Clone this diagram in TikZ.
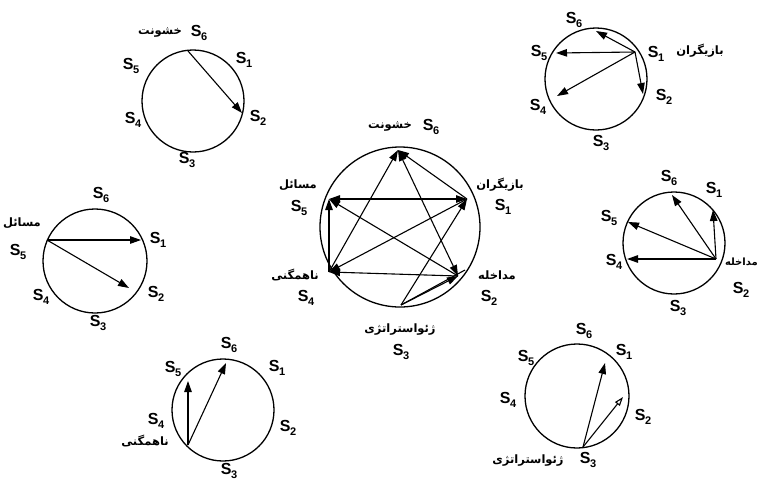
\documentclass[tikz,border=0pt]{standalone}
\usepackage{fontspec}
\setmainfont{Liberation Sans}
\newfontfamily\fa[Script=Arabic]{DejaVu Sans}
\TeXXeTstate=1
\usetikzlibrary{arrows.meta}
\newcommand\slab[1]{S\kern-0.3pt\raisebox{-0.45ex}{\fontsize{11}{11}\selectfont #1}}
\newcommand\fat[1]{\beginR #1\endR}
\tikzset{
  circ/.style={draw, line width=1.3pt, circle, inner sep=0pt},
  arr/.style={line width=1.1pt, -{Triangle[length=11pt,width=7.5pt]}},
  arrb/.style={line width=1.1pt, {Triangle[length=11pt,width=7.5pt]}-{Triangle[length=11pt,width=7.5pt]}},
  arro/.style={line width=1.1pt, -{Triangle[open,length=9pt,width=6pt]}},
  ln/.style={line width=1.1pt},
  lbl/.style={font=\bfseries\fontsize{16}{16}\selectfont, inner sep=0pt},
  fal/.style={font=\fa\bfseries\fontsize{11.5}{12}\selectfont, inner sep=0pt},
}
\begin{document}
\begin{tikzpicture}[x=1pt,y=-1pt]
\useasboundingbox (0,0) rectangle (759,480);
% ---------- top-left circle (S6) ----------
\node[circ, minimum size=102pt] (c1) at (193,101) {};
\coordinate (a6) at (188,51);
\coordinate (a2) at (242,113);
\draw[arr] (a6) -- (a2);
\node[fal] (c1t6) at (160,33) {\fat{خشونت}};
\node[lbl] (c1s6) at (199,33) {\slab{6}};
\node[lbl] (c1s1) at (244,60) {\slab{1}};
\node[lbl] (c1s5) at (131,66) {\slab{5}};
\node[lbl] (c1s4) at (133,120) {\slab{4}};
\node[lbl] (c1s2) at (258,118) {\slab{2}};
\node[lbl] (c1s3) at (187,160) {\slab{3}};
% ---------- top-right circle (S1) ----------
\node[circ, minimum size=102pt] (c2) at (596,79) {};
\coordinate (b1) at (635,52);
\coordinate (b6) at (596,31);
\coordinate (b5) at (556,53);
\coordinate (b2) at (643,94);
\coordinate (b4) at (557,96);
\draw[arr] (b1) -- (b6);
\draw[arr] (b1) -- (b5);
\draw[arr] (b1) -- (b2);
\draw[arr] (b1) -- (b4);
\node[lbl] (c2s6) at (574,20) {\slab{6}};
\node[lbl] (c2s5) at (539,53) {\slab{5}};
\node[lbl] (c2s1) at (656,54) {\slab{1}};
\node[fal] (c2t1) at (700,51) {\fat{بازیگران}};
\node[lbl] (c2s2) at (664,97) {\slab{2}};
\node[lbl] (c2s4) at (538,107) {\slab{4}};
\node[lbl] (c2s3) at (601,143) {\slab{3}};
% ---------- central circle ----------
\node[circ, minimum size=160pt] (c0) at (400,227) {};
\coordinate (m6) at (398,150);
\coordinate (m1) at (467,199);
\coordinate (m2) at (458,276);
\coordinate (m2b) at (465,270);
\coordinate (m3) at (401,305);
\coordinate (m4) at (329,272);
\coordinate (m5) at (329,199);
\draw[arr] (m4) -- (m6);
\draw[arr] (m1) -- (m6);
\draw[arrb] (m2) -- (m6);
\draw[arrb] (m1) -- (m5);
\draw[arr] (m2) -- (m5);
\draw[arr] (m4) -- (m5);
\draw[arr] (m1) -- (m4);
\draw[arr] (m2) -- (m4);
\draw[arr] (m3) -- (m1);
\draw[arr] (m3) -- (m2);
\draw[ln] (m3) -- (m2b);
\node[fal] (c0t6) at (390,127) {\fat{خشونت}};
\node[lbl] (c0s6) at (431,127) {\slab{6}};
\node[fal] (c0t1) at (500,185) {\fat{بازیگران}};
\node[lbl] (c0s1) at (503,207) {\slab{1}};
\node[fal] (c0t5) at (298,185) {\fat{مسائل}};
\node[lbl] (c0s5) at (299,208) {\slab{5}};
\node[fal] (c0t4) at (295,275) {\fat{ناهمگنی}};
\node[lbl] (c0s4) at (306,298) {\slab{4}};
\node[fal] (c0t2) at (497,275) {\fat{مداخله}};
\node[lbl] (c0s2) at (489,298) {\slab{2}};
\node[fal] (c0t3) at (400,330) {\fat{ژئواستراتژی}};
\node[lbl] (c0s3) at (401,352) {\slab{3}};
% ---------- left circle (S5) ----------
\node[circ, minimum size=104pt] (c3) at (95,261) {};
\coordinate (d5) at (47,240);
\coordinate (d1) at (141,240);
\coordinate (d2) at (129,288);
\draw[arr] (d5) -- (d1);
\draw[arr] (d5) -- (d2);
\node[lbl] (c3s6) at (101,195) {\slab{6}};
\node[fal] (c3t5) at (22,223) {\fat{مسائل}};
\node[lbl] (c3s5) at (18,252) {\slab{5}};
\node[lbl] (c3s1) at (158,240) {\slab{1}};
\node[lbl] (c3s4) at (41,297) {\slab{4}};
\node[lbl] (c3s2) at (156,294) {\slab{2}};
\node[lbl] (c3s3) at (98,323) {\slab{3}};
% ---------- right-middle circle (S2) ----------
\node[circ, minimum size=102pt] (c4) at (674,243) {};
\coordinate (e2) at (716,259);
\coordinate (e1) at (713,210);
\coordinate (e6) at (672,195);
\coordinate (e5) at (628,222);
\coordinate (e4) at (627,259);
\draw[arr] (e2) -- (e1);
\draw[arr] (e2) -- (e6);
\draw[arr] (e2) -- (e5);
\draw[arr] (e2) -- (e4);
\node[lbl] (c4s6) at (669,178) {\slab{6}};
\node[lbl] (c4s1) at (714,190) {\slab{1}};
\node[lbl] (c4s5) at (609,218) {\slab{5}};
\node[lbl] (c4s4) at (614,262) {\slab{4}};
\node[fal, font=\fa\bfseries\fontsize{10}{11}\selectfont, anchor=east] (c4t2) at (758,262) {\fat{مداخله}};
\node[lbl] (c4s2) at (741,290) {\slab{2}};
\node[lbl] (c4s3) at (678,308) {\slab{3}};
% ---------- bottom-left circle (S4) ----------
\node[circ, minimum size=102pt] (c5) at (223,410) {};
\coordinate (f4) at (188,445);
\coordinate (f5) at (188,381);
\coordinate (f6) at (226,363);
\draw[arr] (f4) -- (f5);
\draw[arr] (f4) -- (f6);
\node[lbl] (c5s6) at (229,345) {\slab{6}};
\node[lbl] (c5s1) at (277,368) {\slab{1}};
\node[lbl] (c5s5) at (173,369) {\slab{5}};
\node[lbl] (c5s4) at (156,421) {\slab{4}};
\node[fal] (c5t4) at (145,441) {\fat{ناهمگنی}};
\node[lbl] (c5s2) at (288,428) {\slab{2}};
\node[lbl, anchor=south] (c5s3) at (229,479) {\slab{3}};
% ---------- bottom-right circle (S3) ----------
\node[circ, minimum size=104pt] (c6) at (577,396) {};
\coordinate (g3) at (583,447);
\coordinate (g1) at (605,363);
\coordinate (g2) at (623,397);
\draw[arr] (g3) -- (g1);
\draw[arro] (g3) -- (g2);
\node[lbl] (c6s6) at (584,331) {\slab{6}};
\node[lbl] (c6s1) at (624,352) {\slab{1}};
\node[lbl] (c6s5) at (526,358) {\slab{5}};
\node[lbl] (c6s4) at (508,400) {\slab{4}};
\node[lbl] (c6s2) at (643,417) {\slab{2}};
\node[lbl] (c6s3) at (588,460) {\slab{3}};
\node[fal] (c6t3) at (528,461) {\fat{ژئواستراتژی}};
\end{tikzpicture}
\end{document}
